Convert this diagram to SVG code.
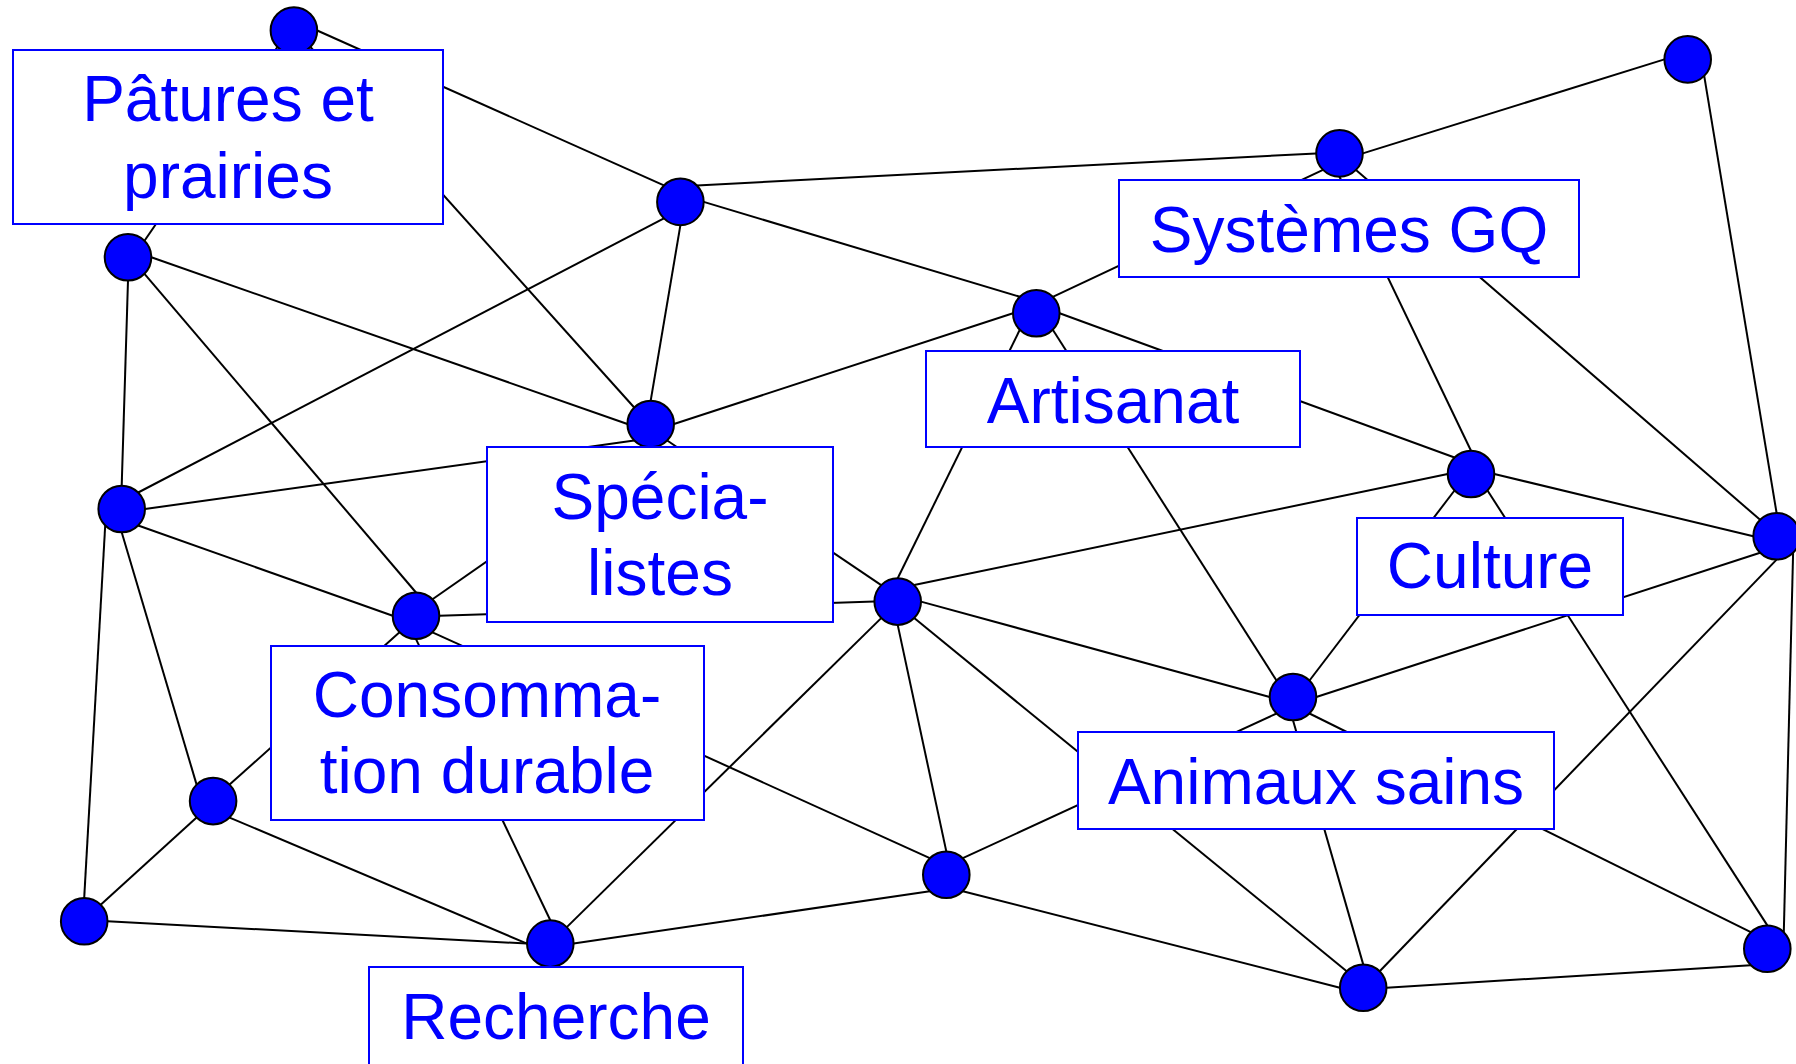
<svg xmlns="http://www.w3.org/2000/svg" width="1796" height="1064" viewBox="0 0 1796 1064">
<style>
.e{stroke:#000;stroke-width:2;fill:none}
.n{fill:#0000FF;stroke:#000;stroke-width:2}
.b{fill:#fff;stroke:#0000FF;stroke-width:2}
.t{font-family:"Liberation Sans",Arial,sans-serif;font-size:64px;fill:#0000FF;text-anchor:middle}
</style>
<rect width="1796" height="1064" fill="#fff"/>
<g id="connectors">
<line class="e" x1="277.4" y1="47" x2="144.5" y2="240.8"/>
<line class="e" x1="317.2" y1="30.5" x2="663.9" y2="185.4"/>
<line class="e" x1="310.4" y1="47" x2="634.2" y2="407.5"/>
<line class="e" x1="128" y1="280.6" x2="121.7" y2="485.7"/>
<line class="e" x1="151.3" y1="257.3" x2="627.4" y2="424"/>
<line class="e" x1="144.5" y1="273.8" x2="416" y2="592.5"/>
<line class="e" x1="138.2" y1="492.5" x2="663.9" y2="218.4"/>
<line class="e" x1="145" y1="509" x2="634.2" y2="440.5"/>
<line class="e" x1="138.2" y1="525.5" x2="392.7" y2="615.8"/>
<line class="e" x1="121.7" y1="532.3" x2="196.6" y2="784.6"/>
<line class="e" x1="105.2" y1="525.5" x2="84.2" y2="897.9"/>
<line class="e" x1="196.6" y1="817.6" x2="100.7" y2="904.7"/>
<line class="e" x1="229.6" y1="817.6" x2="527" y2="943.6"/>
<line class="e" x1="107.5" y1="921.2" x2="527" y2="943.6"/>
<line class="e" x1="399.5" y1="632.3" x2="229.6" y2="784.6"/>
<line class="e" x1="416" y1="639.1" x2="550.3" y2="920.3"/>
<line class="e" x1="432.5" y1="632.3" x2="929.8" y2="858.2"/>
<line class="e" x1="439.3" y1="615.8" x2="874.4" y2="601.6"/>
<line class="e" x1="432.5" y1="599.3" x2="650.7" y2="447.3"/>
<line class="e" x1="680.4" y1="225.2" x2="650.7" y2="400.7"/>
<line class="e" x1="703.7" y1="201.9" x2="1019.8" y2="296.8"/>
<line class="e" x1="696.9" y1="185.4" x2="1316.2" y2="153.4"/>
<line class="e" x1="674" y1="424" x2="1013" y2="313.3"/>
<line class="e" x1="667.2" y1="440.5" x2="881.2" y2="585.1"/>
<line class="e" x1="1052.8" y1="296.8" x2="1323" y2="169.9"/>
<line class="e" x1="1059.6" y1="313.3" x2="1454.5" y2="457.5"/>
<line class="e" x1="1019.8" y1="329.8" x2="897.7" y2="578.3"/>
<line class="e" x1="1052.8" y1="329.8" x2="1276.5" y2="680.5"/>
<line class="e" x1="1362.8" y1="153.4" x2="1664.4" y2="59.4"/>
<line class="e" x1="1704.2" y1="75.9" x2="1776.6" y2="513"/>
<line class="e" x1="1339.5" y1="176.7" x2="1471" y2="450.7"/>
<line class="e" x1="1356" y1="169.9" x2="1760.1" y2="519.8"/>
<line class="e" x1="1494.3" y1="474" x2="1753.3" y2="536.3"/>
<line class="e" x1="914.2" y1="585.1" x2="1447.7" y2="474"/>
<line class="e" x1="1454.5" y1="490.5" x2="1309.5" y2="680.5"/>
<line class="e" x1="1487.5" y1="490.5" x2="1767.3" y2="925.4"/>
<line class="e" x1="1316.3" y1="697" x2="1760.1" y2="552.8"/>
<line class="e" x1="1776.6" y1="559.6" x2="1379.7" y2="971.2"/>
<line class="e" x1="1793.1" y1="552.8" x2="1783.8" y2="932.2"/>
<line class="e" x1="566.8" y1="927.1" x2="881.2" y2="618.1"/>
<line class="e" x1="573.6" y1="943.6" x2="929.8" y2="891.2"/>
<line class="e" x1="897.7" y1="624.9" x2="946.3" y2="851.4"/>
<line class="e" x1="921" y1="601.6" x2="1269.7" y2="697"/>
<line class="e" x1="914.2" y1="618.1" x2="1346.7" y2="971.2"/>
<line class="e" x1="962.8" y1="858.2" x2="1276.5" y2="713.5"/>
<line class="e" x1="962.8" y1="891.2" x2="1339.9" y2="987.7"/>
<line class="e" x1="1293" y1="720.3" x2="1363.2" y2="964.4"/>
<line class="e" x1="1309.5" y1="713.5" x2="1750.8" y2="932.2"/>
<line class="e" x1="1386.5" y1="987.7" x2="1750.8" y2="965.2"/>
</g>
<g id="n1"><circle class="n" cx="293.9" cy="30.5" r="23.3"/></g>
<g id="n2"><circle class="n" cx="128" cy="257.3" r="23.3"/></g>
<g id="n3"><circle class="n" cx="121.7" cy="509" r="23.3"/></g>
<g id="n4"><circle class="n" cx="680.4" cy="201.9" r="23.3"/></g>
<g id="n5"><circle class="n" cx="650.7" cy="424" r="23.3"/></g>
<g id="n6"><circle class="n" cx="1036.3" cy="313.3" r="23.3"/></g>
<g id="n7"><circle class="n" cx="1687.7" cy="59.4" r="23.3"/></g>
<g id="n8"><circle class="n" cx="1339.5" cy="153.4" r="23.3"/></g>
<g id="n9"><circle class="n" cx="1471" cy="474" r="23.3"/></g>
<g id="n10"><circle class="n" cx="1776.6" cy="536.3" r="23.3"/></g>
<g id="n11"><circle class="n" cx="416" cy="615.8" r="23.3"/></g>
<g id="n12"><circle class="n" cx="213.1" cy="801.1" r="23.3"/></g>
<g id="n13"><circle class="n" cx="84.2" cy="921.2" r="23.3"/></g>
<g id="n14"><circle class="n" cx="550.3" cy="943.6" r="23.3"/></g>
<g id="n15"><circle class="n" cx="897.7" cy="601.6" r="23.3"/></g>
<g id="n16"><circle class="n" cx="946.3" cy="874.7" r="23.3"/></g>
<g id="n17"><circle class="n" cx="1293" cy="697" r="23.3"/></g>
<g id="n18"><circle class="n" cx="1363.2" cy="987.7" r="23.3"/></g>
<g id="n19"><circle class="n" cx="1767.3" cy="948.7" r="23.3"/></g>
<g id="paturages"><rect class="b" x="13" y="50" width="430" height="174"/><text class="t" x="228" y="121">Pâtures et</text><text class="t" x="228" y="198">prairies</text></g>
<g id="systemes"><rect class="b" x="1119" y="180" width="460" height="97"/><text class="t" x="1349" y="252">Systèmes GQ</text></g>
<g id="artisanat"><rect class="b" x="926" y="351" width="374" height="96"/><text class="t" x="1113" y="423">Artisanat</text></g>
<g id="specialistes"><rect class="b" x="487" y="447" width="346" height="175"/><text class="t" x="660" y="519">Spécia-</text><text class="t" x="660" y="595">listes</text></g>
<g id="culture"><rect class="b" x="1357" y="518" width="266" height="97"/><text class="t" x="1490" y="588">Culture</text></g>
<g id="consommation"><rect class="b" x="271" y="646" width="433" height="174"/><text class="t" x="487" y="717">Consomma-</text><text class="t" x="487" y="793">tion durable</text></g>
<g id="animaux"><rect class="b" x="1078" y="732" width="476" height="97"/><text class="t" x="1316" y="804">Animaux sains</text></g>
<g id="recherche"><rect class="b" x="369" y="967" width="374" height="110"/><text class="t" x="556" y="1039">Recherche</text></g>
</svg>
